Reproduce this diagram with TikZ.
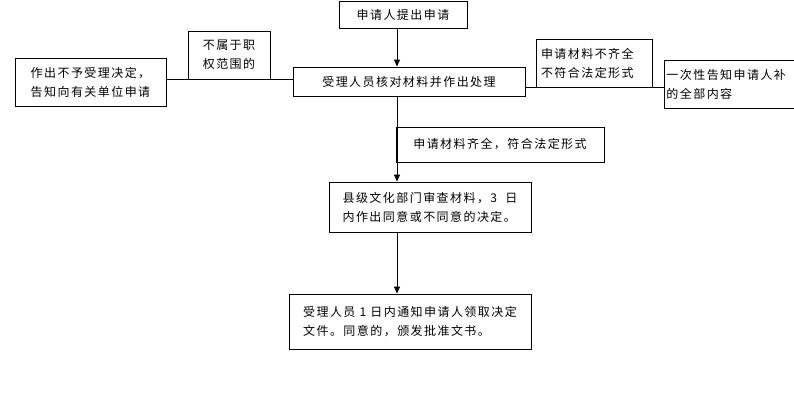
\documentclass[tikz,border=0pt]{standalone}
\usepackage{fontspec}
\newfontfamily\cjk[LetterSpace=12]{Noto Sans CJK SC}
\usetikzlibrary{arrows.meta}
\tikzstyle{process} = [rectangle, 
draw=black, 
line width=0.9pt, 
align=left, 
inner xsep=3pt, 
font=\cjk\fontsize{12}{19}\selectfont]
\tikzstyle{cond} = [process]
\tikzstyle{arrow} = [line width=0.9pt, ->, >={Triangle[length=7pt,width=6pt]}]
\tikzstyle{link} = [line width=0.9pt]

\begin{document}
\begin{tikzpicture}[x=1pt, y=1pt]
	\useasboundingbox (0,0) rectangle (794,-418);
	\clip (0,0) rectangle (794,-418);
	
	\node (start) [process, minimum width=128pt, minimum height=27pt] at (403,-14.5) {申请人提出申请};
	
	\node (main) [process, minimum width=232pt, minimum height=29pt, node distance=67pt, below of=start, xshift=6pt] {受理人员核对材料并作出处理};
	
	\node (left) [process, minimum width=151pt, minimum height=48pt, node distance=318.5pt, left of=main, yshift=-0.5pt] {作出不予受理决定，\\告知向有关单位申请};
	\node (notin) [cond, minimum width=82pt, minimum height=48pt, node distance=180pt, left of=main, yshift=26.5pt] {不属于职\\权范围的};
	
	\node (rlabel) [cond, text width=106pt, inner xsep=5pt, minimum height=48pt, node distance=185pt, right of=main, yshift=18.5pt] {申请材料不齐全\\不符合法定形式};
	\node (rbox) [process, anchor=west, text width=146pt, inner xsep=2pt, minimum height=48pt] at (664,-84) {一次性告知申请人补\\的全部内容};
	
	\node (okay) [cond, minimum width=208pt, minimum height=35pt, node distance=63pt, below of=main, xshift=91pt] {申请材料齐全，符合法定形式};
	
	\node (review) [process, minimum width=202pt, minimum height=50pt, node distance=125.5pt, below of=main, xshift=21pt] {县级文化部门审查材料，3\ \ 日\\内作出同意或不同意的决定。};
	
	\node (final) [process, minimum width=242pt, minimum height=55pt, node distance=114.5pt, below of=review, xshift=-20pt] {受理人员 1 日内通知申请人领取决定\\文件。同意的，颁发批准文书。};
	
	\coordinate (spine) at ([xshift=-6pt]start.south);
	
	\draw [arrow] (spine) -- (spine |- main.north);
	\draw [arrow] (main.south -| spine) -- (review.north -| spine);
	\draw [arrow] (review.south -| spine) -- (final.north -| spine);
	\draw [link] (main.west |- notin.south) -- (left.east |- notin.south);
	\draw [link] (main.east |- rlabel.south) -- (rbox.west |- rlabel.south);
	
\end{tikzpicture}
\end{document}
